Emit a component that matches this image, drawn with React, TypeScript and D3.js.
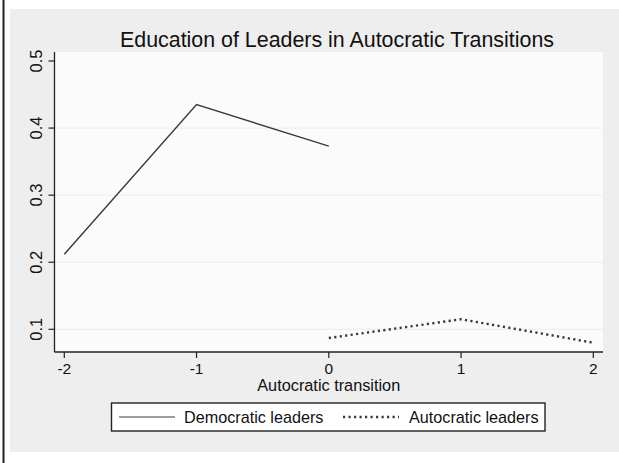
import React from "react";
import * as d3 from "d3";

const periods = [-2, -1, 0, 1, 2];
const democraticX = [-2, -1, 0];
const democraticY = [0.212, 0.435, 0.373];
const autocraticX = [0, 1, 2];
const autocraticY = [0.087, 0.115, 0.08];
const yTicks = [0.1, 0.2, 0.3, 0.4, 0.5];
const yTickLabels = ["0.1", "0.2", "0.3", "0.4", "0.5"];
const xTickLabels = ["-2", "-1", "0", "1", "2"];
const seriesNames = ["Democratic leaders", "Autocratic leaders"];
const title = "Education of Leaders in Autocratic Transitions";
const xTitle = "Autocratic transition";

const W = 619;
const H = 463;
const FONT = "'Liberation Sans', Arial, Helvetica, sans-serif";

export default function App() {
  const plotL = 54.5, plotR = 603, plotT = 52, plotB = 352;
  const x = d3.scaleLinear().domain([-2, 2]).range([64.3, 593.3]);
  const y = d3.scaleLinear().domain([0.1, 0.5]).range([329.3, 61]);

  const line = d3
    .line<[number, number]>()
    .x((d) => x(d[0]))
    .y((d) => y(d[1]));
  const demPts = democraticX.map((v, i) => [v, democraticY[i]] as [number, number]);
  const autPts = autocraticX.map((v, i) => [v, autocraticY[i]] as [number, number]);

  const lineColor = "#3a3a3a";
  const dash = "2.2 3.3";

  return (
    <svg
      width={W}
      height={H}
      style={{ position: "absolute", left: 0, top: 0, background: "#ffffff" }}
    >
      <rect x={0} y={0} width={W} height={H} fill="#ffffff" />
      <rect x={10} y={9} width={W - 10} height={443} fill="#eeeeee" />
      <line x1={3.5} x2={3.5} y1={0} y2={H} stroke="#222" strokeWidth={2} />

      <rect x={plotL} y={plotT} width={plotR - plotL} height={plotB - plotT} fill="#fbfbfb" />

      {yTicks.slice(0, 4).map((t) => (
        <line
          key={"g" + t}
          x1={plotL}
          x2={plotR}
          y1={y(t)}
          y2={y(t)}
          stroke="#ececec"
          strokeWidth={1}
        />
      ))}

      {/* axes */}
      <line x1={plotL} x2={plotL} y1={plotT} y2={plotB} stroke="#222" strokeWidth={1.3} />
      <line x1={plotL} x2={plotR} y1={plotB} y2={plotB} stroke="#222" strokeWidth={1.3} />

      {yTicks.map((t, i) => (
        <g key={"y" + t}>
          <line x1={plotL - 6} x2={plotL} y1={y(t)} y2={y(t)} stroke="#222" strokeWidth={1.2} />
          <text
            transform={`translate(42,${y(t)}) rotate(-90)`}
            textAnchor="middle"
            fontFamily={FONT}
            fontSize={16.5}
            fill="#111"
          >
            {yTickLabels[i]}
          </text>
        </g>
      ))}

      {periods.map((p, i) => (
        <g key={"x" + p}>
          <line x1={x(p)} x2={x(p)} y1={plotB} y2={plotB + 6} stroke="#222" strokeWidth={1.2} />
          <text
            x={x(p)}
            y={374}
            textAnchor="middle"
            fontFamily={FONT}
            fontSize={15.5}
            fill="#111"
          >
            {xTickLabels[i]}
          </text>
        </g>
      ))}

      <text
        x={(plotL + plotR) / 2}
        y={391}
        textAnchor="middle"
        fontFamily={FONT}
        fontSize={16.3}
        fill="#111"
      >
        {xTitle}
      </text>

      <text
        x={337}
        y={47}
        textAnchor="middle"
        fontFamily={FONT}
        fontSize={21.4}
        fill="#111"
      >
        {title}
      </text>

      <path d={line(demPts) || ""} fill="none" stroke={lineColor} strokeWidth={1.4} />
      <path
        d={line(autPts) || ""}
        fill="none"
        stroke={lineColor}
        strokeWidth={2.4}
        strokeDasharray={dash}
      />

      {/* legend */}
      <rect x={111.5} y={403} width={433.5} height={28} fill="#ffffff" stroke="#222" strokeWidth={1.4} />
      <line x1={119} x2={175} y1={417} y2={417} stroke={lineColor} strokeWidth={1.2} />
      <text x={184} y={422.5} fontFamily={FONT} fontSize={16.2} fill="#111">
        {seriesNames[0]}
      </text>
      <line
        x1={343}
        x2={399}
        y1={417}
        y2={417}
        stroke={lineColor}
        strokeWidth={2.4}
        strokeDasharray={dash}
      />
      <text x={409} y={422.5} fontFamily={FONT} fontSize={16.2} fill="#111">
        {seriesNames[1]}
      </text>
    </svg>
  );
}
